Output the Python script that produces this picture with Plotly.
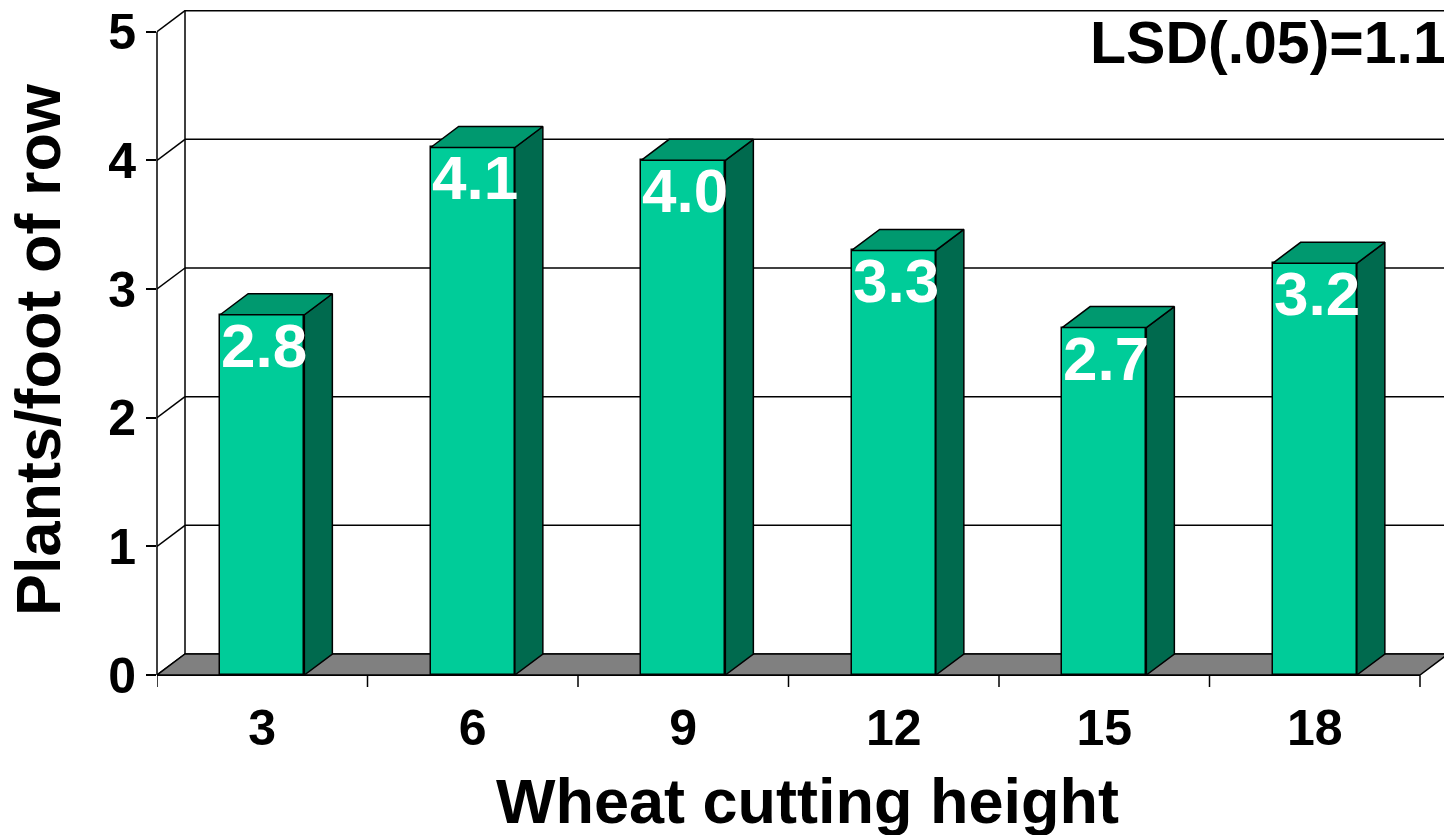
import plotly.graph_objects as go

# ---- data ----
categories = ["3", "6", "9", "12", "15", "18"]
values = [2.8, 4.1, 4.0, 3.3, 2.7, 3.2]
value_labels = ["2.8", "4.1", "4.0", "3.3", "2.7", "3.2"]
y_ticks = [0, 1, 2, 3, 4, 5]
x_title = "Wheat cutting height"
y_title = "Plants/foot of row"
lsd_text = "LSD(.05)=1.1"

# ---- geometry / style ----
PAGE_OFF = 8          # default body margin of the html page
W, H = 1452 - PAGE_OFF, 835 - PAGE_OFF
ML, MR, MT = 157 - PAGE_OFF, 4, 10 - PAGE_OFF
PX_X = 210.5          # pixels per category
PX_Y = 128.66         # pixels per y unit
DXP, DYP = 28, 21     # 3D depth offset in pixels
plot_w = W - ML - MR
plot_h = 665
MB = H - MT - plot_h
n = len(categories)
x0 = -0.5
xend = n - 0.5
x1 = x0 + plot_w / PX_X
y1 = plot_h / PX_Y
dx = DXP / PX_X
dy = DYP / PX_Y
bw = 0.4
ytop = y_ticks[-1]

FONT = "Liberation Sans, Arial, sans-serif"
FRONT = "#00CC99"
TOP = "#00996F"
SIDE = "#006A4E"
FLOOR = "#808080"
LW = 1.5

xs = list(range(n))

fig = go.Figure()

shapes = []
# back wall
shapes.append(dict(type="rect", xref="x", yref="y", x0=x0 + dx, x1=xend + dx, y0=dy, y1=ytop + dy,
                   fillcolor="white", line=dict(color="black", width=LW), layer="below"))
# gridlines on back wall and side wall
for k in y_ticks:
    if 0 < k < ytop:
        shapes.append(dict(type="line", xref="x", yref="y", x0=x0 + dx, x1=xend + dx, y0=k + dy, y1=k + dy,
                           line=dict(color="black", width=LW), layer="below"))
    shapes.append(dict(type="line", xref="x", yref="y", x0=x0, x1=x0 + dx, y0=k, y1=k + dy,
                       line=dict(color="black", width=LW), layer="below"))
# floor
shapes.append(dict(type="path", xref="x", yref="y",
                   path=f"M {x0},0 L {xend},0 L {xend + dx},{dy} L {x0 + dx},{dy} Z",
                   fillcolor=FLOOR, line=dict(color="black", width=LW), layer="below"))
# front edge of floor
shapes.append(dict(type="line", xref="x", yref="paper", x0=x0, x1=xend, y0=0, y1=0,
                   line=dict(color="black", width=2), layer="below"))
# y axis line (front)
shapes.append(dict(type="line", xref="paper", yref="y", x0=0, x1=0, y0=0, y1=ytop,
                   line=dict(color="black", width=LW), layer="below"))
# x tick marks at category boundaries
for i in range(n + 1):
    shapes.append(dict(type="line", xref="x", yref="paper", x0=x0 + i, x1=x0 + i, y0=0, y1=-12 / plot_h,
                       line=dict(color="black", width=LW)))

# front faces of bars
fig.add_trace(go.Bar(x=xs, y=values, width=bw, marker=dict(color=FRONT, line=dict(color="black", width=LW)),
                     cliponaxis=False, hoverinfo="skip", showlegend=False))

# side and top faces
sx, sy, tx, ty = [], [], [], []
for i, v in zip(xs, values):
    xl, xr = i - bw / 2, i + bw / 2
    sx += [xr, xr + dx, xr + dx, xr, xr, None]
    sy += [0, dy, v + dy, v, 0, None]
    tx += [xl, xr, xr + dx, xl + dx, xl, None]
    ty += [v, v, v + dy, v + dy, v, None]
fig.add_trace(go.Scatter(x=sx, y=sy, fill="toself", fillcolor=SIDE, mode="lines",
                         line=dict(color="black", width=LW), cliponaxis=False, hoverinfo="skip", showlegend=False))
fig.add_trace(go.Scatter(x=tx, y=ty, fill="toself", fillcolor=TOP, mode="lines",
                         line=dict(color="black", width=LW), cliponaxis=False, hoverinfo="skip", showlegend=False))

annotations = []
for i, v, lab in zip(xs, values, value_labels):
    annotations.append(dict(x=i + 0.01, y=v, xref="x", yref="y", text=lab, showarrow=False,
                            yanchor="top", xanchor="center", yshift=6,
                            font=dict(family=FONT, size=62, color="white", weight="bold")))
annotations.append(dict(x=1, y=1, xref="paper", yref="paper", text=lsd_text, showarrow=False,
                        xanchor="right", yanchor="top", xshift=0, yshift=2,
                        font=dict(family=FONT, size=59, color="black", weight="bold")))
annotations.append(dict(x=0, y=(675 - 350) / plot_h, xref="paper", yref="paper", text=y_title, showarrow=False,
                        textangle=-90, xanchor="center", yanchor="middle", xshift=-119,
                        font=dict(family=FONT, size=63, color="black", weight="bold")))
annotations.append(dict(x=(807 - 157) / plot_w, y=(675 - 800.5) / plot_h, xref="paper", yref="paper",
                        text=x_title, showarrow=False, xanchor="center", yanchor="middle",
                        font=dict(family=FONT, size=63, color="black", weight="bold")))

fig.update_layout(
    width=W, height=H,
    margin=dict(l=ML, r=MR, t=MT, b=MB, pad=0, autoexpand=False),
    paper_bgcolor="white", plot_bgcolor="white",
    shapes=shapes, annotations=annotations,
    bargap=0,
    xaxis=dict(range=[x0, x1], tickvals=xs, ticktext=categories, ticks="", showgrid=False,
               zeroline=False, showline=False, ticklabelstandoff=19, automargin=False,
               ticklabeloverflow="allow",
               tickfont=dict(family=FONT, size=50, color="black", weight="bold")),
    yaxis=dict(range=[0, y1], tickvals=y_ticks, ticks="outside", ticklen=10, tickwidth=LW, tickcolor="black",
               showgrid=False, zeroline=False, showline=False, ticklabelstandoff=0, automargin=False,
               ticklabeloverflow="allow",
               tickfont=dict(family=FONT, size=50, color="black", weight="bold")),
    showlegend=False,
)

fig.write_html("out.html")
